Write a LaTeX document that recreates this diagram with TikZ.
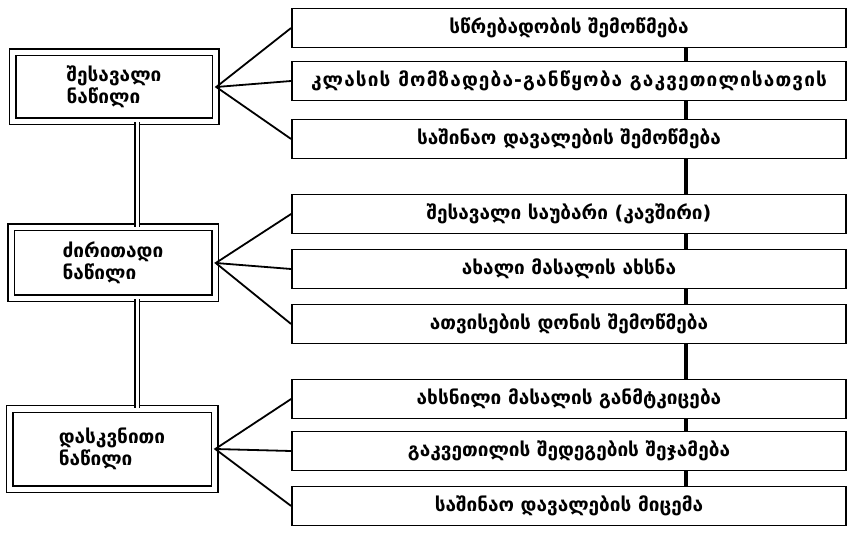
\documentclass[tikz,border=0pt]{standalone}
\usepackage{fontspec}
\setmainfont{DejaVu Sans}
\usepackage{tikz}

\begin{document}
\begin{tikzpicture}[x=1pt,y=-1pt,
	part_node/.style={draw,double,double distance=5pt,line width=1.5pt,align=left,inner sep=0pt,font=\bfseries\fontsize{19}{22}\selectfont},
	item_node/.style={draw,line width=1.8pt,minimum width=554pt,minimum height=39pt,inner sep=0pt,font=\bfseries\fontsize{19}{22}\selectfont},
	fan_line/.style={line width=1.8pt},
	spine_line/.style={line width=4.5pt},
	part_line/.style={line width=1.5pt,double,double distance=3pt}]
	\useasboundingbox (0,0) rectangle (854,534);
	% left column
	\node[part_node,minimum width=203pt,minimum height=69pt] (intro) at (114,87) {შესავალი\\ნაწილი};
	\node[part_node,minimum width=204pt,minimum height=71pt] (main) at (113,263) {ძირითადი\\ნაწილი};
	\node[part_node,minimum width=205pt,minimum height=80pt] (final) at (112,449) {დასკვნითი\\ნაწილი};
	% right column
	\node[item_node] (r1) at (569,28) {სწრებადობის შემოწმება};
	\node[item_node] (r2) at (569,81) {\addfontfeature{LetterSpace=6}კლასის მომზადება-განწყობა გაკვეთილისათვის};
	\node[item_node] (r3) at (569,139) {საშინაო დავალების შემოწმება};
	\node[item_node] (r4) at (569,214) {შესავალი საუბარი (კავშირი)};
	\node[item_node] (r5) at (569,269) {ახალი მასალის ახსნა};
	\node[item_node] (r6) at (569,324) {ათვისების დონის შემოწმება};
	\node[item_node] (r7) at (569,399) {ახსნილი მასალის განმტკიცება};
	\node[item_node] (r8) at (569,451) {გაკვეთილის შედეგების შეჯამება};
	\node[item_node] (r9) at (569,506) {საშინაო დავალების მიცემა};
	\coordinate (rx) at (686,0);
	\coordinate (lx) at (137,0);
\draw[part_line] (intro.south -| lx) -- (main.north -| lx);
\draw[part_line] (main.south -| lx) -- (final.north -| lx);
\draw[fan_line] (r1.west) -- (intro.east) -- (r3.west);
\draw[fan_line] (intro.east) -- (r2.west);
\draw[fan_line] (r4.west) -- (main.east) -- (r6.west);
\draw[fan_line] (main.east) -- (r5.west);
\draw[fan_line] (r7.west) -- (final.east) -- (r9.west);
\draw[fan_line] (final.east) -- (r8.west);
\foreach \a/\b in {r1/r2,r2/r3,r3/r4,r4/r5,r5/r6,r6/r7,r7/r8,r8/r9}
	\draw[spine_line] (\a.south -| rx) -- (\b.north -| rx);
\end{tikzpicture}
\end{document}
